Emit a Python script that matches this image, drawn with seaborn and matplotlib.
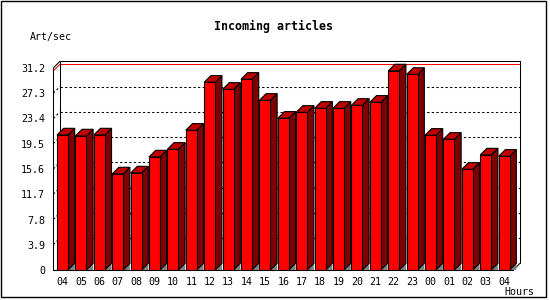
import matplotlib
matplotlib.use("Agg")
import matplotlib.pyplot as plt
from matplotlib.patches import Polygon, Rectangle
import seaborn as sns
import pandas as pd

# ---- data ----
hours = ["04", "05", "06", "07", "08", "09", "10", "11", "12", "13", "14", "15",
         "16", "17", "18", "19", "20", "21", "22", "23", "00", "01", "02", "03", "04"]
rates = [20.85, 20.7, 20.85, 14.83, 14.98, 17.45, 18.64, 21.58, 28.99, 27.9, 29.45, 26.2,
         23.43, 24.35, 24.97, 24.97, 25.43, 25.9, 30.74, 30.2, 20.8, 20.18, 15.55, 17.76, 17.56]
ytick_vals = [0, 3.9, 7.8, 11.7, 15.6, 19.5, 23.4, 27.3, 31.2]
ytick_labels = ["0", "3.9", "7.8", "11.7", "15.6", "19.5", "23.4", "27.3", "31.2"]
title = "Incoming articles"
ylabel = "Art/sec"
xlabel = "Hours"

sns.set_style("white")
plt.rcParams["font.family"] = ["DejaVu Sans Mono", "DejaVu Sans"]
plt.rcParams["text.color"] = "black"
plt.rcParams["xtick.color"] = "black"
plt.rcParams["ytick.color"] = "black"
plt.rcParams["xtick.labelcolor"] = "black"
plt.rcParams["ytick.labelcolor"] = "black"

W, H = 550, 300
fig = plt.figure(figsize=(W / 100, H / 100), dpi=100)

# front plane in pixels
left_px, right_px = 53.3, 513.3
bot_px, top_px = 270.0, 68.0
ax = fig.add_axes([left_px / W, 1 - bot_px / H, (right_px - left_px) / W, (bot_px - top_px) / H])

n = len(hours)
ymax = ytick_vals[-1]
ax.set_xlim(-0.5, n - 0.5)
ax.set_ylim(0, ymax)

depth_px = 6.7
dx = depth_px / ((right_px - left_px) / n)
dy = depth_px / ((bot_px - top_px) / ymax)

df = pd.DataFrame({"slot": list(range(n)), "rate": rates})
sns.barplot(data=df, x="slot", y="rate", width=0.6, color="#FF0000", saturation=1,
            edgecolor="black", linewidth=0.8, errorbar=None, ax=ax, zorder=5)

xl0, xl1 = -0.5, n - 0.5
lw = 0.75
# back plane gridlines (dotted)
for v in ytick_vals[:-1]:
    if v == 0:
        continue
    ax.plot([xl0 + dx, xl1 + dx], [v + dy, v + dy], color="black", lw=lw,
            dashes=(2.2, 2.2), clip_on=False, zorder=1)
    ax.plot([xl0, xl0 + dx], [v, v + dy], color="black", lw=lw,
            dashes=(2.2, 2.2), clip_on=False, zorder=1)
# max value line (red) on back plane
vmax = max(rates)
ax.plot([xl0 + dx, xl1 + dx], [vmax + dy, vmax + dy], color="#FF0000", lw=lw, clip_on=False, zorder=2)
ax.plot([xl0, xl0 + dx], [vmax, vmax + dy], color="#FF0000", lw=lw, clip_on=False, zorder=2)

# frame lines
frame = [
    ([xl0 + dx, xl1 + dx], [ymax + dy, ymax + dy]),
    ([xl1 + dx, xl1 + dx], [dy, ymax + dy]),
    ([xl0 + dx, xl0 + dx], [dy, ymax + dy]),
    ([xl0, xl0 + dx], [ymax, ymax + dy]),
    ([xl1, xl1 + dx], [0, dy]),
    ([xl0, xl0], [0, ymax]),
    ([xl0, xl1], [0, 0]),
]
for xs, ys in frame:
    ax.plot(xs, ys, color="black", lw=lw, clip_on=False, zorder=3)

# 3D bar faces
for p in list(ax.patches):
    x0 = p.get_x()
    w = p.get_width()
    h = p.get_height()
    xr = x0 + w
    ax.add_patch(Polygon([(xr, 0), (xr + dx, dy), (xr + dx, 0)], closed=True,
                         facecolor="#808080", edgecolor="none", clip_on=False, zorder=4))
    ax.add_patch(Polygon([(xr, 0), (xr, h), (xr + dx, h + dy), (xr + dx, dy)], closed=True,
                         facecolor="#800000", edgecolor="black", lw=0.8, clip_on=False, zorder=4))
    ax.add_patch(Polygon([(x0, h), (xr, h), (xr + dx, h + dy), (x0 + dx, h + dy)], closed=True,
                         facecolor="#C00000", edgecolor="black", lw=0.8, clip_on=False, zorder=4))

for s in ax.spines.values():
    s.set_visible(False)

ax.set_xticks(range(n), labels=hours)
ax.set_xticks([i - 0.5 for i in range(n + 1)], minor=True)
ax.tick_params(axis="x", which="major", length=0, pad=5, labelsize=7.2, colors="black")
ax.tick_params(axis="x", which="minor", length=3, width=lw, direction="out", color="black")
ax.set_yticks(ytick_vals, labels=ytick_labels)
ax.tick_params(axis="y", length=3, width=lw, direction="out", pad=3, labelsize=7.2, colors="black")
ax.set_xlabel("")
ax.set_ylabel("")
ax.grid(False)
ax.set_facecolor("none")

fig.text(274 / W, 1 - 26.7 / H, title, ha="center", va="center", fontsize=8.4,
         fontweight="bold", color="black")
fig.text(30 / W, 1 - 36.7 / H, ylabel, ha="left", va="center", fontsize=7.2, color="black")
fig.text(504 / W, 1 - 292.3 / H, xlabel, ha="left", va="center", fontsize=7.2, color="black")

fig.patches.append(Rectangle((0.5 / W, 3 / H), 545 / W, 296.5 / H, transform=fig.transFigure,
                             fill=False, edgecolor="black", lw=1.0))

fig.savefig("out.png", dpi=100, facecolor="white")
